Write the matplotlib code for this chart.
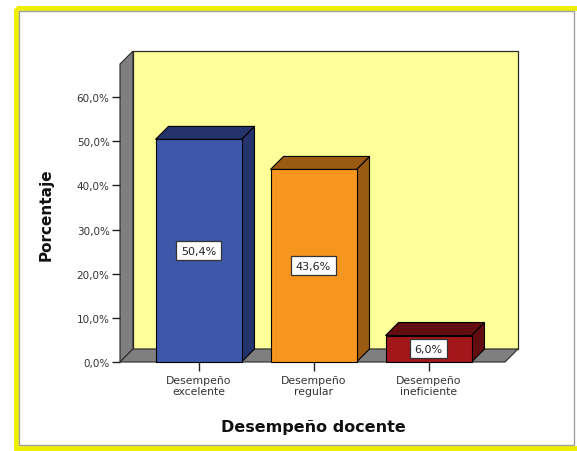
import matplotlib.pyplot as plt
from matplotlib.patches import Polygon, Rectangle

# datos
categorias = ['Desempeño\nexcelente', 'Desempeño\nregular', 'Desempeño\nineficiente']
porcentajes = [50.4, 43.6, 6.0]
etiquetas = ['50,4%', '43,6%', '6,0%']
ticks_y = [0, 10, 20, 30, 40, 50, 60]

col_frente = ['#3D58A9', '#F7961F', '#A3171B']
col_lado = ['#24336B', '#9A5A12', '#620E10']

W, H = 577, 452
fig = plt.figure(figsize=(W / 100, H / 100), dpi=100)

# marco exterior
bg = fig.add_axes([0, 0, 1, 1])
bg.set_xlim(0, W)
bg.set_ylim(H, 0)
bg.axis('off')
bg.add_patch(Rectangle((15.5, 8.5), 600, 440, fill=False, edgecolor='#EEEE00', lw=3.5))
bg.add_patch(Rectangle((19, 11.5), 555, 434.5, fill=False, edgecolor='#A0A0A0', lw=1))

# zona del grafico en pixeles
px_left, px_right, px_bottom, px_top = 120, 518, 363, 52
ax = fig.add_axes([px_left / W, (H - px_bottom) / H,
                   (px_right - px_left) / W, (px_bottom - px_top) / H])

x_c0, x_step = 198.5, 115.0
y_scale = (363 - 98) / 60.0
xl = (px_left - x_c0) / x_step
xr = (px_right - x_c0) / x_step
ytop = (px_bottom - px_top) / y_scale
dx = 13 / x_step
dy = 13 / y_scale
ancho = 86 / x_step

ax.set_xlim(xl, xr)
ax.set_ylim(0, ytop)
for s in ax.spines.values():
    s.set_visible(False)
ax.patch.set_alpha(0)

borde = '#2A2A2A'
# pared izquierda, fondo y piso
ax.add_patch(Polygon([(xl, 0), (xl, ytop - dy), (xl + dx, ytop), (xl + dx, dy)],
                     closed=True, facecolor='#7F7F7F', edgecolor=borde, lw=0.8, zorder=1,
                     clip_on=False))
ax.add_patch(Rectangle((xl + dx, dy), xr - xl - dx, ytop - dy,
                       facecolor='#FFFF99', edgecolor=borde, lw=0.9, zorder=1, clip_on=False))
ax.add_patch(Polygon([(xl, 0), (xr - dx, 0), (xr, dy), (xl + dx, dy)],
                     closed=True, facecolor='#7F7F7F', edgecolor=borde, lw=0.8, zorder=2,
                     clip_on=False))

xs = list(range(len(porcentajes)))
ax.bar(xs, porcentajes, width=ancho, color=col_frente, edgecolor='black', lw=0.8, zorder=4,
       clip_on=False)
for x, v, cl in zip(xs, porcentajes, col_lado):
    x0, x1 = x - ancho / 2, x + ancho / 2
    ax.add_patch(Polygon([(x1, 0), (x1, v), (x1 + dx, v + dy), (x1 + dx, dy)],
                         closed=True, facecolor=cl, edgecolor='black', lw=0.8, zorder=3))
    ax.add_patch(Polygon([(x0, v), (x1, v), (x1 + dx, v + dy), (x0 + dx, v + dy)],
                         closed=True, facecolor=cl, edgecolor='black', lw=0.8, zorder=3))

for x, v, t in zip(xs, porcentajes, etiquetas):
    ax.text(x, v / 2, t, ha='center', va='center', fontsize=8, color='#222222', zorder=6,
            bbox=dict(boxstyle='square,pad=0.4', facecolor='white', edgecolor='#333333', lw=0.9))

ax.set_yticks(ticks_y)
ax.set_yticklabels([f'{t},0%' for t in ticks_y])
ax.set_xticks(xs)
ax.set_xticklabels(categorias, linespacing=1.05)
ax.tick_params(axis='y', length=6, width=1, color='#222222', labelsize=7.5,
               labelcolor='#333333', pad=1.5)
ax.tick_params(axis='x', length=6.5, width=1, color='#222222', labelsize=7.8,
               labelcolor='#333333', pad=3)

fig.text(313 / W, (H - 428) / H, 'Desempeño docente', ha='center', va='center',
         fontsize=11.5, fontweight='bold', color='#111111')
fig.text(46 / W, (H - 215) / H, 'Porcentaje', ha='center', va='center', rotation=90,
         fontsize=11, fontweight='bold', color='#111111')

fig.savefig('out.png', dpi=100)
